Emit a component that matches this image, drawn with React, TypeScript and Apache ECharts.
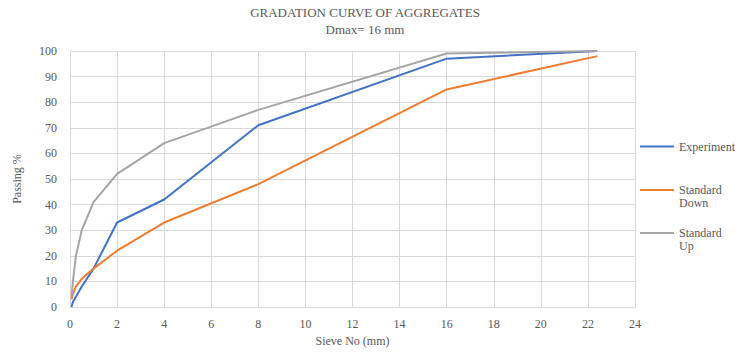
import React, { useEffect, useRef } from "react";
import * as echarts from "echarts";

// Sieve sizes (mm) and passing percentages for each curve
const sieves = [0.063, 0.125, 0.25, 0.5, 1, 2, 4, 8, 16, 22.4];
const experiment = [0, 2, 4, 8, 15, 33, 42, 71, 97, 100];
const standardDown = [3, 5, 8, 11, 15, 22, 33, 48, 85, 98];
const standardUp = [4, 10, 20, 30, 41, 52, 64, 77, 99, 100];

const seriesNames = ["Experiment", "Standard Down", "Standard Up"];
const seriesColors = ["#4472C4", "#ED7D31", "#A5A5A5"];
// vertical position of each legend entry
const legendTops = [140, 170.5, 213.5];

const FONT = "Liberation Serif";
const TEXT = "#595959";

const pairs = (ys: number[]) => sieves.map((x, i) => [x, ys[i]]);

// Wrapped names get a blank first line so the swatch sits beside the first word
const legendText = (name: string) =>
  name.includes(" ") ? "\n" + name.replace(" ", "\n") : name;

export default function App() {
  const ref = useRef<HTMLDivElement>(null);

  useEffect(() => {
    if (!ref.current) return;
    const chart = echarts.init(ref.current, undefined, { renderer: "svg" });
    const values = [experiment, standardDown, standardUp];
    chart.setOption({
      animation: false,
      backgroundColor: "#ffffff",
      title: {
        text: "GRADATION CURVE OF AGGREGATES",
        subtext: "Dmax= 16 mm",
        left: 360,
        textAlign: "center",
        top: 1,
        itemGap: 4,
        textStyle: { fontFamily: FONT, fontSize: 13, fontWeight: "normal", color: TEXT },
        subtextStyle: { fontFamily: FONT, fontSize: 13, color: TEXT },
      },
      legend: seriesNames.map((name, i) => ({
        orient: "vertical",
        left: 640,
        top: legendTops[i],
        padding: 0,
        itemWidth: 34,
        itemHeight: 2,
        icon: "rect",
        formatter: legendText,
        textStyle: { fontFamily: FONT, fontSize: 12, color: TEXT, lineHeight: 13 },
        data: [name],
      })),
      grid: { left: 70, right: 105, top: 51, bottom: 46 },
      xAxis: {
        type: "value",
        min: 0,
        max: 24,
        interval: 2,
        name: "Sieve No (mm)",
        nameLocation: "middle",
        nameGap: 25,
        nameTextStyle: { fontFamily: FONT, fontSize: 12, color: TEXT },
        axisLine: { lineStyle: { color: "#d9d9d9" } },
        axisTick: { show: false },
        axisLabel: { fontFamily: FONT, fontSize: 12, color: TEXT, margin: 11 },
        splitLine: { show: true, lineStyle: { color: "#d9d9d9", width: 1 } },
      },
      yAxis: {
        type: "value",
        min: 0,
        max: 100,
        interval: 10,
        name: "Passing %",
        nameLocation: "middle",
        nameGap: 47,
        nameTextStyle: { fontFamily: FONT, fontSize: 12, color: TEXT },
        axisLine: { show: true, lineStyle: { color: "#d9d9d9" } },
        axisTick: { show: false },
        axisLabel: { fontFamily: FONT, fontSize: 12, color: TEXT, margin: 13 },
        splitLine: { show: true, lineStyle: { color: "#d9d9d9", width: 1 } },
      },
      series: seriesNames.map((name, i) => ({
        name,
        type: "line",
        data: pairs(values[i]),
        showSymbol: false,
        symbol: "none",
        color: seriesColors[i],
        lineStyle: { width: 2, color: seriesColors[i] },
      })),
    });
    return () => chart.dispose();
  }, []);

  return (
    <div
      ref={ref}
      style={{ position: "fixed", left: 0, top: 0, width: 740, height: 353 }}
    />
  );
}
